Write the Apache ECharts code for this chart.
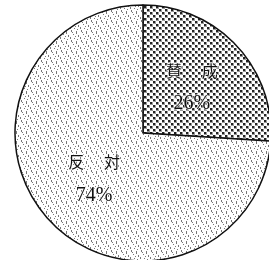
<!DOCTYPE html>
<html lang="ja">
<head>
<meta charset="UTF-8">
<title>賛成・反対</title>
<script src="https://cdn.jsdelivr.net/npm/echarts@6/dist/echarts.min.js"></script>
<style>
  html, body { margin: 0; padding: 0; background: #fff; }
  #main { width: 269px; height: 260px; }
</style>
</head>
<body>
<div id="main"></div>
<script type="text/javascript">
var names = ['賛　 成', '反　 対'];
var values = [26, 74];

// 網点パターン（濃い方）
function darkDots() {
  var c = document.createElement('canvas');
  c.width = 6; c.height = 6;
  var g = c.getContext('2d');
  g.fillStyle = '#fff'; g.fillRect(0, 0, 6, 6);
  g.fillStyle = '#999';
  g.fillRect(0, 0, 3, 3);
  g.fillRect(3, 3, 3, 3);
  g.fillStyle = '#222';
  g.fillRect(0, 0, 2, 2);
  g.fillRect(3, 3, 2, 2);
  return c;
}
// ざらざらした薄い方
function lightSpeckle() {
  var c = document.createElement('canvas');
  c.width = 10; c.height = 10;
  var g = c.getContext('2d');
  g.fillStyle = '#fff'; g.fillRect(0, 0, 10, 10);
  g.fillStyle = '#777';
  var pts = [[1,0,1,2],[6,1,1,3],[3,4,1,1],[8,5,1,2],[0,7,1,2],[4,8,1,1],[7,9,1,1],[2,2,1,1],[5,6,1,1]];
  for (var i = 0; i < pts.length; i++) g.fillRect(pts[i][0], pts[i][1], pts[i][2], pts[i][3]);
  return c;
}

var myChart = echarts.init(document.getElementById('main'));
var fills = [darkDots(), lightSpeckle()];
var data = [];
for (var i = 0; i < names.length; i++) {
  data.push({
    name: names[i],
    value: values[i],
    itemStyle: { color: { image: fills[i], repeat: 'repeat' } }
  });
}
var option = {
  backgroundColor: '#fff',
  animation: false,
  series: [
    {
      type: 'pie',
      center: [143, 133],
      radius: [0, 128],
      startAngle: 90,
      clockwise: true,
      data: data,
      itemStyle: { borderColor: '#111', borderWidth: 1.5 },
      label: {
        position: 'inside',
        formatter: '{n|{b}}\n{p|{c}%}',
        rich: {
          n: { fontFamily: 'Noto Sans CJK JP', fontSize: 16, color: '#111', lineHeight: 33,
               textBorderColor: 'rgba(255,255,255,0.8)', textBorderWidth: 1.5 },
          p: { fontFamily: 'Liberation Serif', fontSize: 20, color: '#111', lineHeight: 33,
               textBorderColor: 'rgba(255,255,255,0.8)', textBorderWidth: 1.5 }
        }
      },
      labelLine: { show: false },
      emphasis: { disabled: true }
    }
  ]
};
myChart.setOption(option);
</script>
</body>
</html>
